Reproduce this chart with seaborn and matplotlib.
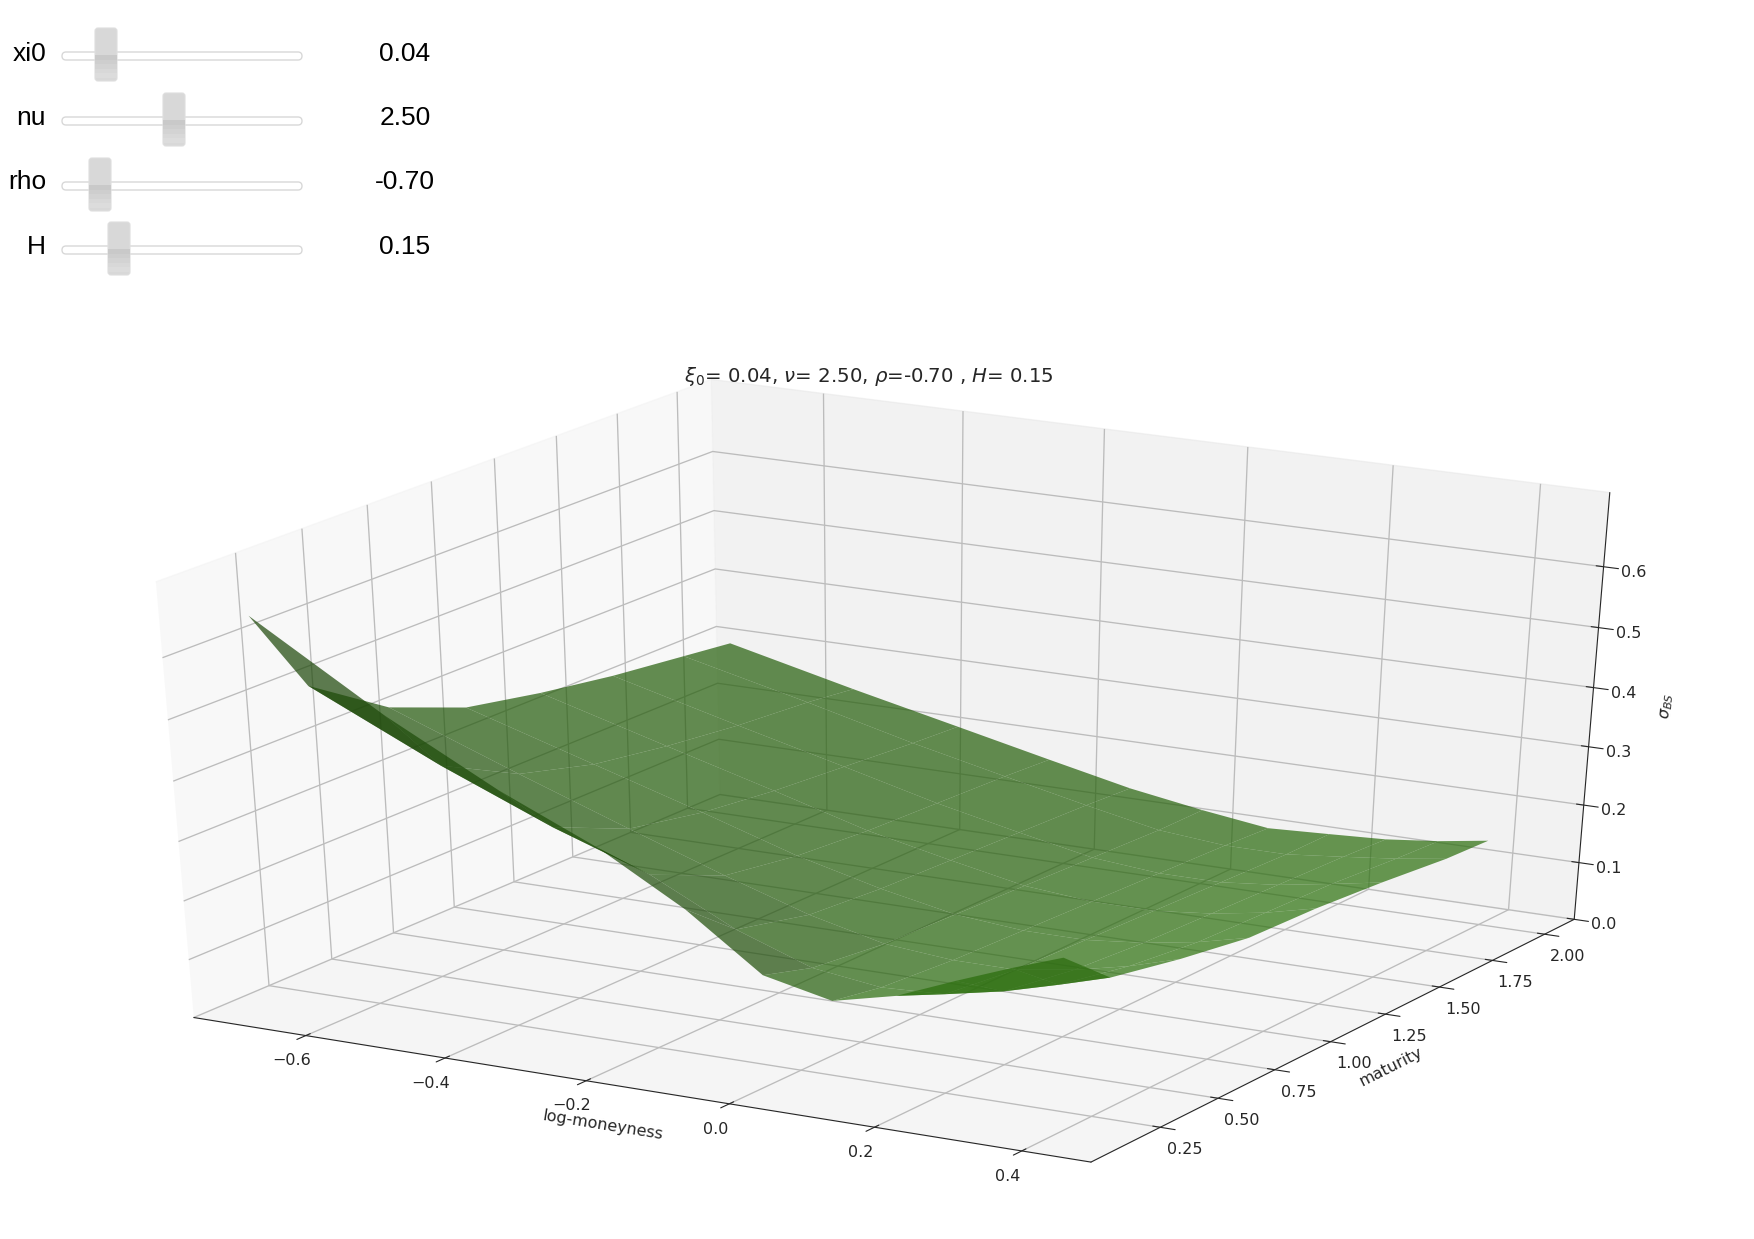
import numpy as np
import matplotlib
matplotlib.use('Agg')
import matplotlib.pyplot as plt
import seaborn as sns
from matplotlib.patches import FancyBboxPatch, Rectangle

# 1. Data
strikes = [-0.693, -0.511, -0.357, -0.223, -0.105, 0.0, 0.095, 0.182, 0.262, 0.336, 0.405]
maturities = [0.1, 0.3, 0.6, 0.9, 1.2, 1.5, 1.8, 2.0]

iv_t010 = [0.655, 0.525, 0.43, 0.36, 0.28, 0.19, 0.165, 0.19, 0.23, 0.265, 0.295]
iv_t030 = [0.51, 0.41, 0.335, 0.28, 0.21, 0.165, 0.15, 0.155, 0.175, 0.20, 0.225]
iv_t060 = [0.425, 0.345, 0.28, 0.225, 0.18, 0.15, 0.14, 0.14, 0.155, 0.175, 0.20]
iv_t090 = [0.375, 0.31, 0.255, 0.205, 0.17, 0.145, 0.135, 0.135, 0.145, 0.16, 0.18]
iv_t120 = [0.35, 0.29, 0.24, 0.195, 0.165, 0.14, 0.13, 0.13, 0.14, 0.155, 0.175]
iv_t150 = [0.33, 0.275, 0.23, 0.19, 0.16, 0.135, 0.125, 0.125, 0.135, 0.15, 0.165]
iv_t180 = [0.315, 0.265, 0.22, 0.185, 0.155, 0.13, 0.12, 0.12, 0.13, 0.14, 0.152]
iv_t200 = [0.305, 0.255, 0.215, 0.18, 0.15, 0.13, 0.115, 0.12, 0.125, 0.135, 0.148]

x_ticks = [-0.6, -0.4, -0.2, 0.0, 0.2, 0.4]
y_ticks = [0.25, 0.5, 0.75, 1.0, 1.25, 1.5, 1.75, 2.0]
z_ticks = [0.0, 0.1, 0.2, 0.3, 0.4, 0.5, 0.6]

slider_names = ['xi0', 'nu', 'rho', 'H']
slider_texts = ['0.04', '2.50', '-0.70', '0.15']

# 2. Setup
sns.set_style('white')
plt.rcParams['font.family'] = ['DejaVu Sans']
plt.rcParams['axes3d.grid'] = True
plt.rcParams['grid.color'] = '#bcbcbc'
plt.rcParams['grid.linewidth'] = 0.95

X, Y = np.meshgrid(strikes, maturities)
Z = np.array([iv_t010, iv_t030, iv_t060, iv_t090, iv_t120, iv_t150, iv_t180, iv_t200])

fig = plt.figure(figsize=(17.54, 12.39), dpi=100)

# 3D axes stretched to fill its rectangle, old matplotlib style
ax = fig.add_axes([-0.0445, 0.0085, 1.08, 0.74], projection='3d')
ax.set_box_aspect((1, 1, 1), zoom=0.92)
ax.apply_aspect = lambda position=None: None
ax.view_init(elev=30.8, azim=-60)

ax.plot_surface(X, Y, Z, color='#368a10', alpha=0.71, linewidth=0, antialiased=True,
                rstride=1, cstride=1)

ax.set_xlim(-0.763, 0.493)
ax.set_ylim(-0.044, 2.144)
ax.set_zlim(0, 0.72)
ax.set_xticks(x_ticks)
ax.set_yticks(y_ticks)
ax.set_zticks(z_ticks)
ax.tick_params(labelsize=11.5)
ax.tick_params(axis='x', pad=6)
ax.tick_params(axis='y', pad=6)
ax.set_xlabel('log-moneyness', fontsize=11.5, labelpad=8)
ax.set_ylabel('maturity', fontsize=11.5, labelpad=8)
ax.set_zlabel(r'$\sigma_{BS}$', fontsize=11.5, labelpad=8)
ax.set_title(r'$\xi_0$= 0.04, $\nu$= 2.50, $\rho$=-0.70 , $H$= 0.15', fontsize=14.2, y=1.003, pad=0)

# 3. Slider strip, drawn in pixel coordinates
ui = fig.add_axes([0, 0, 1, 1], facecolor='none')
ui.set_xlim(0, 1754)
ui.set_ylim(1239, 0)
ui.axis('off')

handle_x = [106, 174, 100, 119]
track_y = [56, 121, 186, 250]
text_y = [54, 118, 182, 247]
for name, txt, hx, ty, ly in zip(slider_names, slider_texts, handle_x, track_y, text_y):
    ui.text(46, ly, name, ha='right', va='center', fontsize=19, family='Liberation Sans', color='black')
    ui.text(405, ly, txt, ha='center', va='center', fontsize=19, family='Liberation Sans', color='black')
    ui.add_patch(FancyBboxPatch((62, ty - 4), 240, 8, boxstyle='round,pad=0,rounding_size=4',
                                fc='white', ec='#d8d8d8', lw=1.0))
    ui.add_patch(FancyBboxPatch((hx - 11, ty - 28), 22, 53, boxstyle='round,pad=0,rounding_size=3',
                                fc='#d8d8d8', ec='#dedede', lw=0.8))
    # darker lower half of the handle
    for j, shade in enumerate(['#c9c9c9', '#cecece', '#d3d3d3', '#d8d8d8', '#dcdcdc']):
        ui.add_patch(Rectangle((hx - 11, ty - 1 + j * 4.5), 22, 4.5, fc=shade, ec='none'))

plt.savefig('out.png', dpi=100)
